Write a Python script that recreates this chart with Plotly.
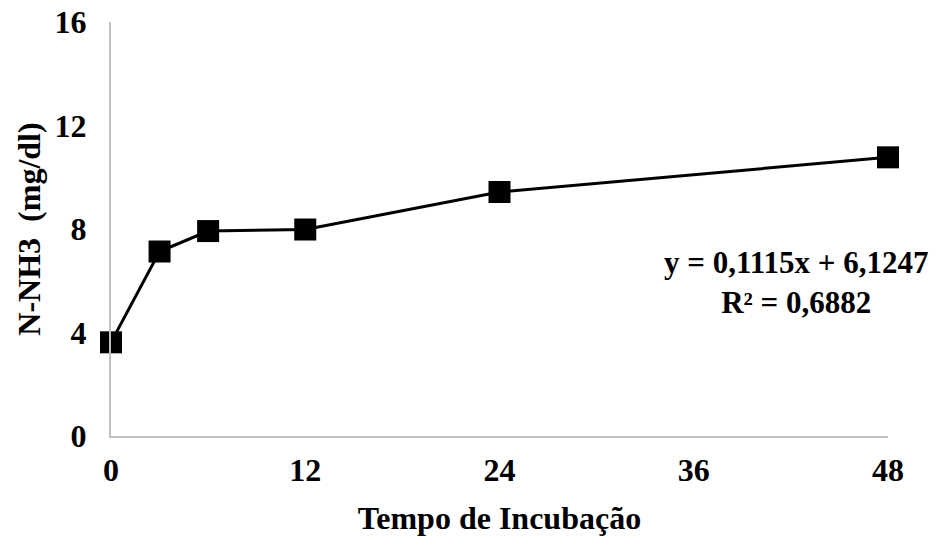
import plotly.graph_objects as go

tempo = [0, 3, 6, 12, 24, 48]
nh3 = [3.62, 7.13, 7.92, 7.98, 9.43, 10.77]
x_ticks = [0, 12, 24, 36, 48]
y_ticks = [0, 4, 8, 12, 16]
equation_lines = ["y = 0,1115x + 6,1247", "R² = 0,6882"]

FONT = "Liberation Serif"

fig = go.Figure()
fig.add_trace(go.Scatter(
    x=tempo, y=nh3, mode="lines+markers",
    line=dict(color="black", width=3),
    marker=dict(symbol="square", size=22, color="black"),
    cliponaxis=False,
    showlegend=False,
))

fig.add_annotation(
    x=42.3, y=5.95, xref="x", yref="y",
    text="<br>".join(f"<b>{s}</b>" for s in equation_lines),
    showarrow=False, align="center",
    font=dict(family=FONT, size=31, color="black"),
)

fig.update_layout(
    width=938, height=536,
    margin=dict(l=111, r=50, t=22, b=100),
    paper_bgcolor="white", plot_bgcolor="white",
    font=dict(family=FONT, size=32, color="black"),
    xaxis=dict(
        range=[0, 48], tickvals=x_ticks, ticktext=[f"<b>{v}</b>" for v in x_ticks],
        showgrid=False, zeroline=False, showline=True, linecolor="#bfbfbf", linewidth=2,
        ticks="", ticklabelstandoff=5, automargin=False,
        title=dict(text="<b>Tempo de Incubação</b>", font=dict(family=FONT, size=32), standoff=20),
    ),
    yaxis=dict(
        range=[0, 16], tickvals=y_ticks, ticktext=[f"<b>{v}</b>" for v in y_ticks],
        showgrid=False, zeroline=False, showline=True, linecolor="#bfbfbf", linewidth=2,
        ticks="", ticklabelstandoff=16, automargin=False,
        title=dict(text="<b>N-NH3  (mg/dl)</b>", font=dict(family=FONT, size=32), standoff=4),
    ),
)

fig.write_html("out.html")
